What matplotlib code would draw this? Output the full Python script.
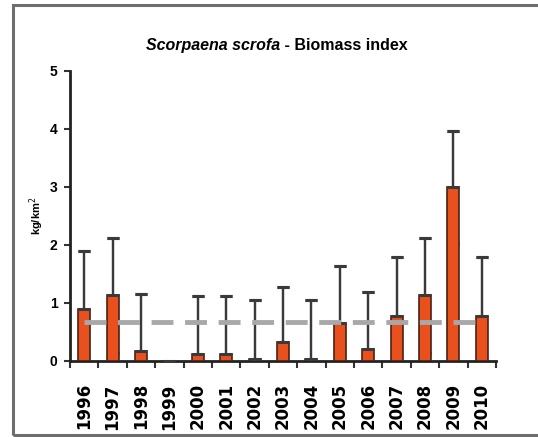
import matplotlib.pyplot as plt
import matplotlib.patches as mpatches
import numpy as np

years = ['1996', '1997', '1998', '1999', '2000', '2001', '2002', '2003',
         '2004', '2005', '2006', '2007', '2008', '2009', '2010']
biomass = [0.90, 1.13, 0.17, 0.0, 0.12, 0.12, 0.04, 0.33,
           0.03, 0.66, 0.20, 0.78, 1.13, 3.00, 0.78]
upper = [1.90, 2.12, 1.15, np.nan, 1.12, 1.12, 1.05, 1.28,
         1.05, 1.63, 1.18, 1.80, 2.12, 3.97, 1.80]
mean_level = 0.67

arial = ['Liberation Sans', 'DejaVu Sans']

x = np.arange(len(years))
val = np.array(biomass)
up = np.array(upper) - val
lo = np.minimum(up, val)

fig = plt.figure(figsize=(5.38, 4.37), dpi=100)
ax = fig.add_axes([0.130, 0.174, 0.792, 0.664])

# outer frame of the original figure
fig.patches.append(mpatches.Rectangle((13 / 538, 2 / 437), 0.99, 430 / 437,
                                      transform=fig.transFigure, fill=False,
                                      edgecolor='#6e6e6e', linewidth=2.2))

ax.errorbar(x, val, yerr=[lo, up], fmt='none', ecolor='#3a3a3a',
            elinewidth=1.6, capsize=4, capthick=2.2, zorder=2)
ax.bar(x, val, width=0.42, color='#e8501e', edgecolor='#4a2215',
       linewidth=1.2, zorder=3)
ax.errorbar(x, val, yerr=[np.zeros_like(up), up], fmt='none', ecolor='#3a3a3a',
            elinewidth=1.6, capsize=4, capthick=2.2, zorder=4)
ax.plot([x[0], x[-1]], [mean_level, mean_level], color='#a8a8a8',
        linewidth=3.5, dashes=(4.5, 2.4), zorder=5)

ax.set_xlim(-0.5, len(years) - 0.5)
ax.set_ylim(0, 5)
ax.set_xticks(x)
ax.set_xticklabels(years, rotation=90, fontweight='bold', fontsize=12,
                   family='DejaVu Sans')
ax.set_xticks(np.arange(-0.5, len(years)), minor=True)
ax.tick_params(axis='x', which='major', length=0, pad=16)
ax.tick_params(axis='x', which='minor', length=5, width=1.5, color='#333333')
ax.set_yticks(range(6))
ax.set_yticklabels([str(i) for i in range(6)], fontweight='bold',
                   fontsize=10, family=arial)
ax.tick_params(axis='y', length=4, width=1.5, pad=5, color='#333333')

for s in ['top', 'right']:
    ax.spines[s].set_visible(False)
for s in ['left', 'bottom']:
    ax.spines[s].set_linewidth(2.0)
    ax.spines[s].set_color('#222222')

ax.set_ylabel('kg/km$^2$', fontsize=8, fontweight='bold', family=arial,
              labelpad=3)

fig.text(0.52, 0.895, 'Scorpaena scrofa', ha='right', va='center',
         fontsize=11.5, fontstyle='italic', fontweight='bold', family=arial)
fig.text(0.52, 0.895, ' - Biomass index', ha='left', va='center',
         fontsize=11.5, fontweight='bold', family=arial)

fig.savefig('out.png', dpi=100)
